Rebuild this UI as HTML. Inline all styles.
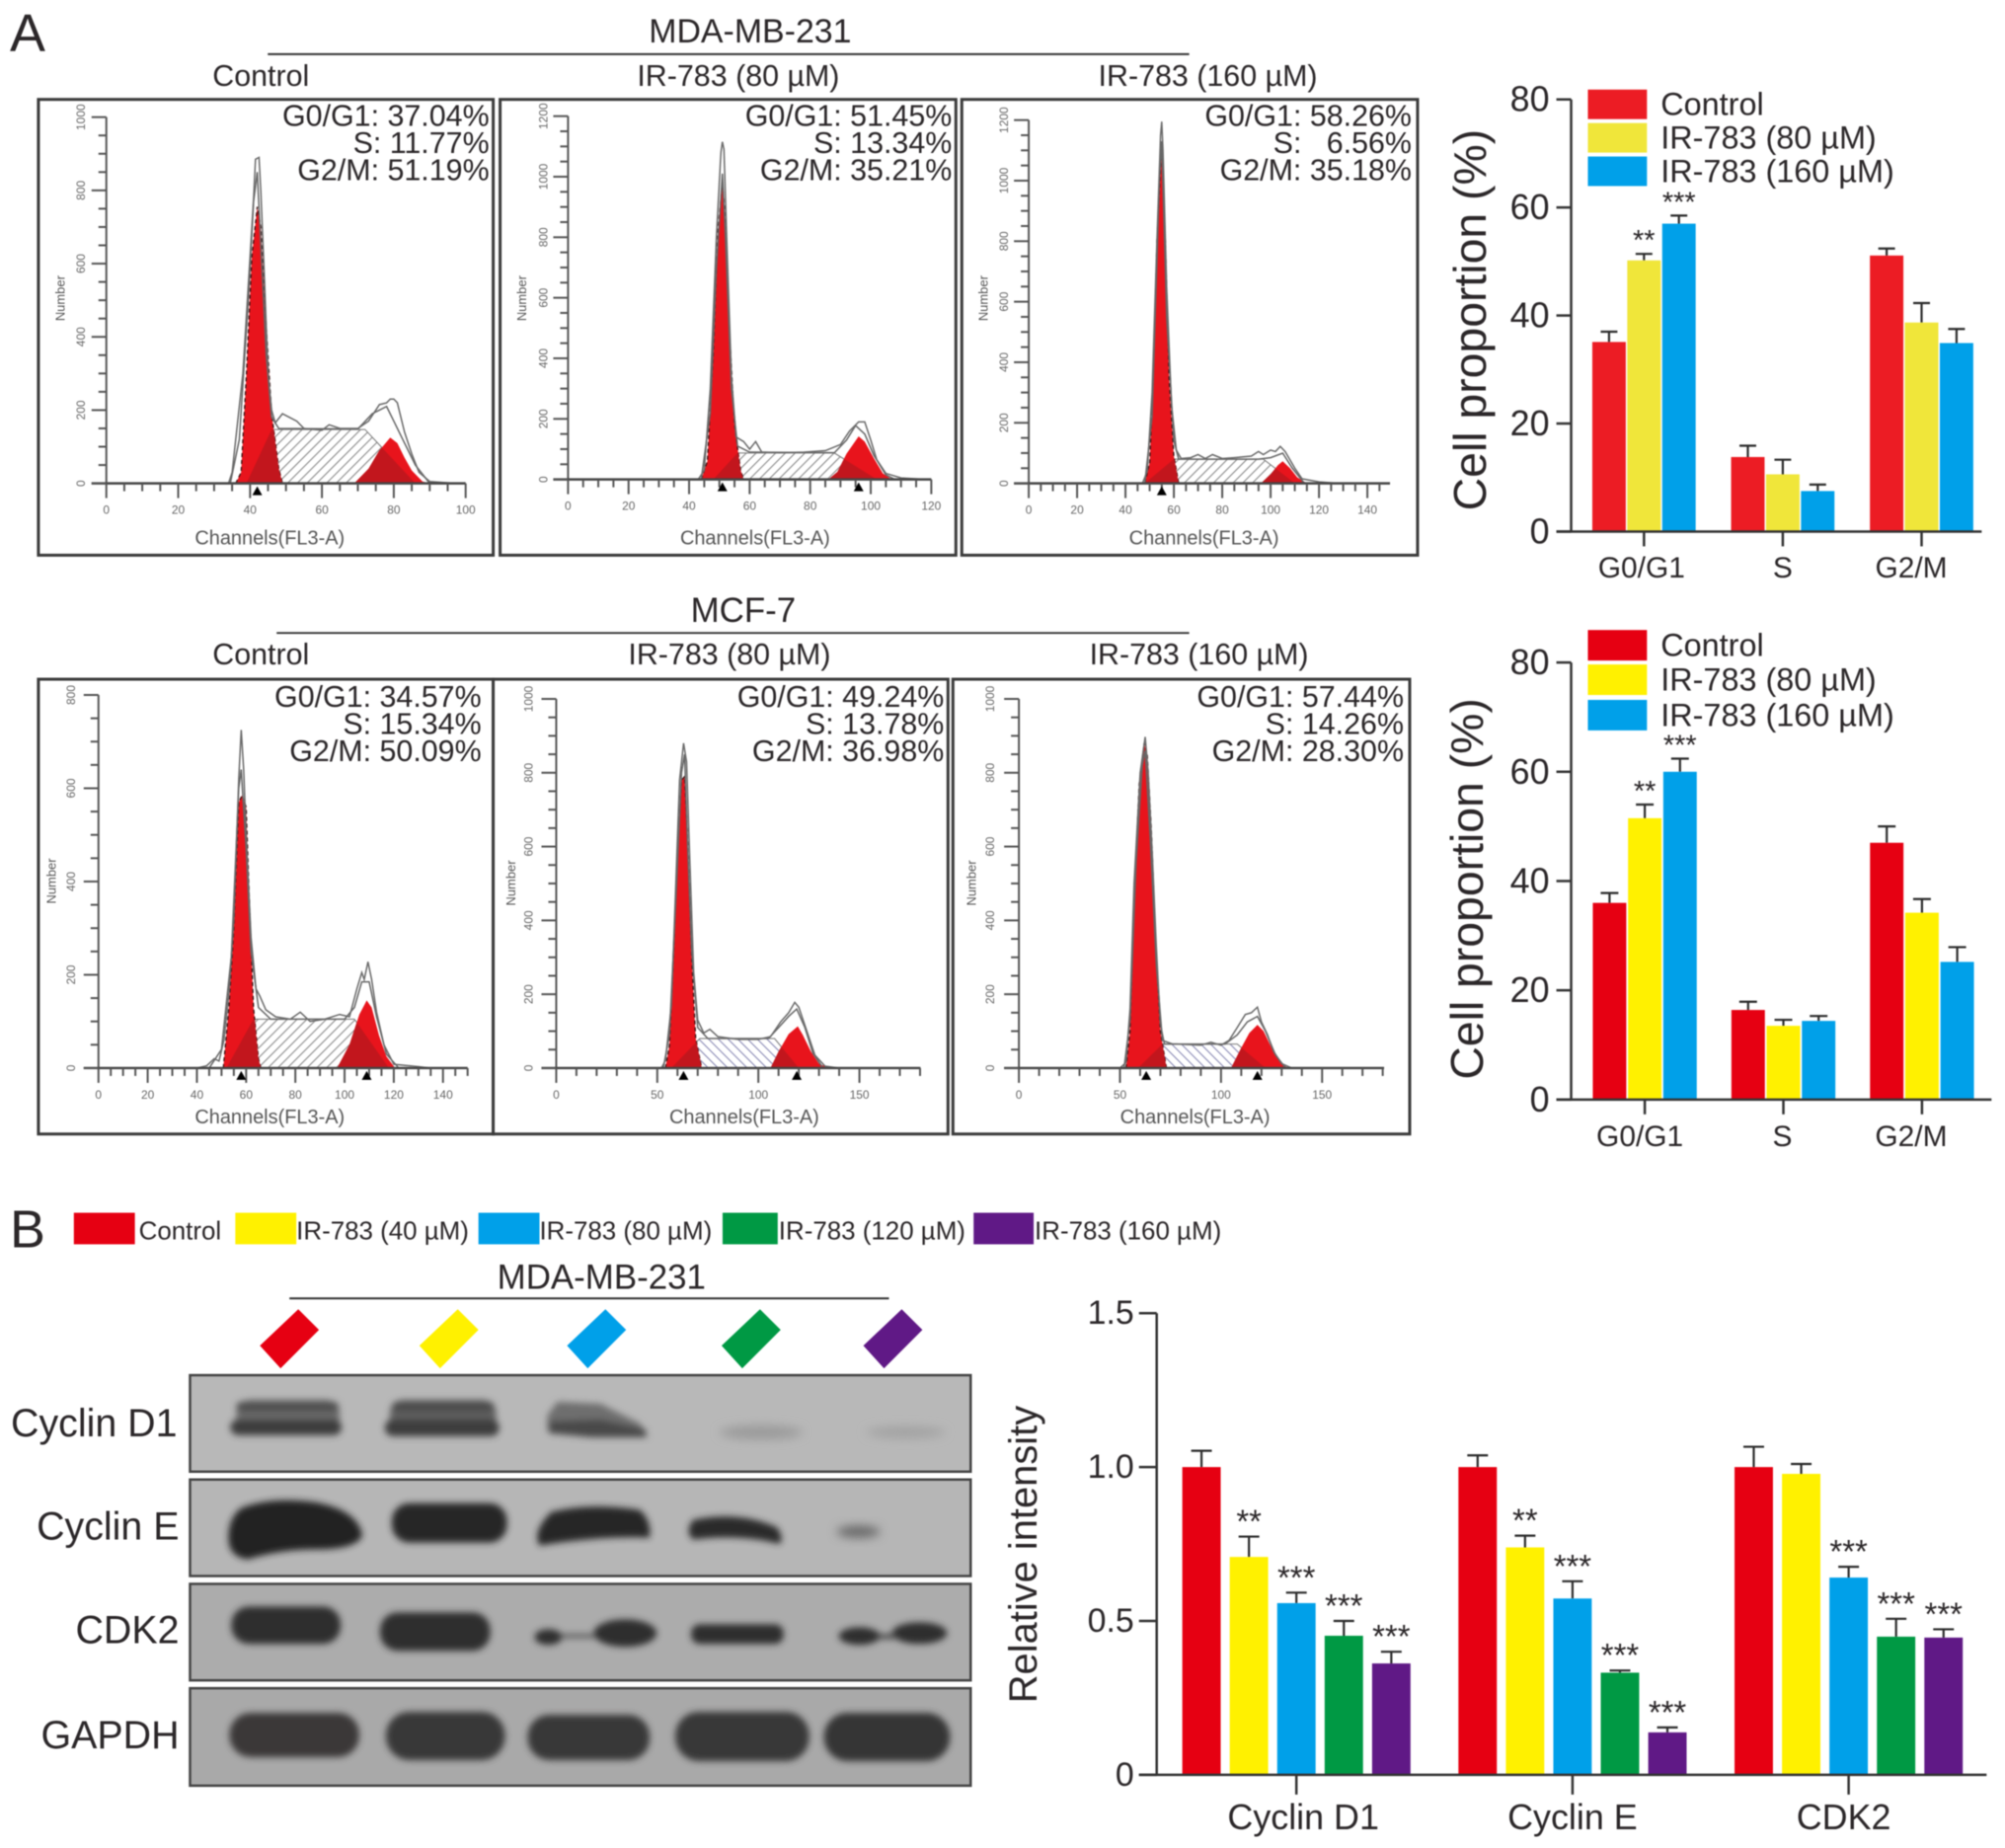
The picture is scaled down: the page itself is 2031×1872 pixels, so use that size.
<!DOCTYPE html>
<html lang="en"><head><meta charset="utf-8"><title>IR-783 cell cycle figure</title>
<style>
html,body{margin:0;padding:0;background:#fff}
svg{display:block;font-family:"Liberation Sans",sans-serif;filter:blur(.45px)}
text{fill:#2b2729}
</style></head>
<body>
<svg id="figure" xmlns="http://www.w3.org/2000/svg" width="2031" height="1872" viewBox="0 0 2036.7 1877.3">
<defs>
<pattern id="hatchGray" width="7" height="7" patternUnits="userSpaceOnUse" patternTransform="rotate(45)"><rect width="7" height="7" fill="#fff"/><line x1="0" y1="0" x2="0" y2="7" stroke="#8a8a8a" stroke-width="2.2"/></pattern>
<pattern id="hatchBlue" width="7" height="7" patternUnits="userSpaceOnUse" patternTransform="rotate(-45)"><rect width="7" height="7" fill="#fff"/><line x1="0" y1="0" x2="0" y2="7" stroke="#8b8bb5" stroke-width="2.2"/></pattern>
<filter id="bandBlur" x="-20%" y="-40%" width="140%" height="180%"><feGaussianBlur stdDeviation="3.4"/></filter>
<filter id="faintBlur" x="-30%" y="-80%" width="160%" height="260%"><feGaussianBlur stdDeviation="5"/></filter>
</defs>
<rect width="2037" height="1878" fill="#fff"/>

<text x="10" y="52" font-size="54">A</text>
<text x="762" y="43" font-size="34" text-anchor="middle">MDA-MB-231</text>
<line x1="272" y1="55" x2="1208" y2="55" stroke="#333" stroke-width="2"/>
<text x="265" y="87" font-size="30.5" text-anchor="middle">Control</text>
<text x="750" y="87" font-size="30.5" text-anchor="middle">IR-783 (80 µM)</text>
<text x="1227" y="87" font-size="30.5" text-anchor="middle">IR-783 (160 µM)</text>

<text x="755" y="632" font-size="35" text-anchor="middle">MCF-7</text>
<line x1="281" y1="643" x2="1208" y2="643" stroke="#333" stroke-width="2"/>
<text x="265" y="675" font-size="30.5" text-anchor="middle">Control</text>
<text x="741" y="675" font-size="30.5" text-anchor="middle">IR-783 (80 µM)</text>
<text x="1218" y="675" font-size="30.5" text-anchor="middle">IR-783 (160 µM)</text>

<g id="histograms"></g>
<g id="barCharts"></g>

<text x="10" y="1267" font-size="54">B</text>
<g font-size="26">
<rect x="75" y="1232" width="62" height="32" fill="#e60012"/>
<text x="141" y="1259">Control</text>
<rect x="239" y="1232" width="62" height="32" fill="#fff100"/>
<text x="301" y="1259">IR-783 (40 µM)</text>
<rect x="486" y="1232" width="62" height="32" fill="#00a0e9"/>
<text x="548" y="1259">IR-783 (80 µM)</text>
<rect x="734" y="1232" width="56" height="32" fill="#009944"/>
<text x="791" y="1259">IR-783 (120 µM)</text>
<rect x="989" y="1232" width="61" height="32" fill="#601986"/>
<text x="1051" y="1259">IR-783 (160 µM)</text>
</g>
<text x="611" y="1309" font-size="35" text-anchor="middle">MDA-MB-231</text>
<line x1="294" y1="1319" x2="903" y2="1319" stroke="#333" stroke-width="2"/>
<g>
<polygon points="303,1330 324,1351 285,1390 264,1367" fill="#e60012"/>
<polygon points="465,1330 486,1351 447,1390 426,1367" fill="#fff100"/>
<polygon points="615,1330 636,1351 597,1390 576,1367" fill="#00a0e9"/>
<polygon points="772,1330 793,1351 754,1390 733,1367" fill="#009944"/>
<polygon points="916,1330 937,1351 898,1390 877,1367" fill="#601986"/>
</g>

<g font-size="39.5" text-anchor="end" style="fill:#3a2c2c">
<text x="180" y="1459">Cyclin D1</text>
<text x="182" y="1564">Cyclin E</text>
<text x="182" y="1669">CDK2</text>
<text x="182" y="1776">GAPDH</text>
</g>

<g>
<rect x="193" y="1397" width="793" height="98" fill="#b8b8b8" stroke="#444" stroke-width="2.5"/>
<g filter="url(#bandBlur)">
<rect x="240" y="1422" width="105" height="34" rx="14" fill="#6a6a6a"/>
<rect x="240" y="1424" width="104" height="10" rx="5" fill="#505050"/>
<rect x="234" y="1442" width="113" height="16" rx="8" fill="#3e3e3e"/>
<rect x="396" y="1422" width="108" height="34" rx="14" fill="#606060"/>
<rect x="398" y="1424" width="104" height="10" rx="5" fill="#4c4c4c"/>
<rect x="391" y="1442" width="116" height="17" rx="8" fill="#3e3e3e"/>
<path d="M566 1424 L610 1426 L650 1446 L658 1460 L600 1460 L556 1454 L556 1438 Z" fill="#6e6e6e"/>
<path d="M558 1444 L610 1442 L656 1452 L656 1460 L600 1460 L558 1456 Z" fill="#484848"/>
</g>
<g filter="url(#faintBlur)">
<ellipse cx="773" cy="1455" rx="42" ry="7" fill="#9a9a9a"/>
<ellipse cx="920" cy="1455" rx="40" ry="6" fill="#a2a2a2"/>
</g>
</g>

<g>
<rect x="193" y="1503" width="793" height="98" fill="#b6b6b6" stroke="#444" stroke-width="2.5"/>
<g filter="url(#bandBlur)">
<path d="M245 1532 Q275 1520 320 1526 Q364 1534 368 1560 Q362 1574 320 1574 Q285 1574 252 1584 Q232 1582 232 1562 Q232 1542 245 1532Z" fill="#222"/>
<rect x="398" y="1527" width="117" height="40" rx="18" fill="#252525"/>
<path d="M560 1536 Q600 1526 650 1534 Q662 1545 660 1562 Q610 1560 548 1570 Q540 1556 560 1536Z" fill="#252525"/>
<path d="M704 1544 Q750 1534 790 1552 Q798 1568 790 1568 Q750 1558 704 1564 Q695 1556 704 1544Z" fill="#2a2a2a"/>
</g>
<g filter="url(#faintBlur)"><ellipse cx="872" cy="1556" rx="22" ry="6" fill="#666"/></g>
</g>

<g>
<rect x="193" y="1609" width="793" height="98" fill="#acacac" stroke="#444" stroke-width="2.5"/>
<g filter="url(#bandBlur)">
<rect x="235" y="1632" width="111" height="38" rx="18" fill="#2d2d2d"/>
<rect x="386" y="1638" width="112" height="39" rx="18" fill="#2d2d2d"/>
<ellipse cx="557" cy="1663" rx="14" ry="8" fill="#2d2d2d"/>
<ellipse cx="635" cy="1659" rx="32" ry="14" fill="#2d2d2d"/>
<rect x="702" y="1650" width="94" height="20" rx="9" fill="#2d2d2d"/>
<ellipse cx="873" cy="1662" rx="21" ry="9" fill="#2d2d2d"/>
<ellipse cx="934" cy="1659" rx="28" ry="11" fill="#2d2d2d"/>
<rect x="570" y="1660" width="35" height="4" fill="#555"/>
<rect x="892" y="1660" width="20" height="5" fill="#444"/>
</g>
</g>

<g>
<rect x="193" y="1715" width="793" height="99" fill="#a9a9a9" stroke="#444" stroke-width="2.5"/>
<g filter="url(#bandBlur)">
<rect x="233" y="1740" width="132" height="45" rx="22" fill="#3b3838"/>
<rect x="392" y="1739" width="121" height="49" rx="24" fill="#393737"/>
<rect x="536" y="1742" width="124" height="46" rx="22" fill="#393737"/>
<rect x="686" y="1739" width="136" height="50" rx="24" fill="#393737"/>
<rect x="837" y="1740" width="128" height="49" rx="24" fill="#343434"/>
</g>
</g>

<script>
/* ---------- Flow-cytometry histogram values (channel, count) ---------- */
const p1Stats = ['G0/G1: 37.04%', 'S: 11.77%', 'G2/M: 51.19%'];
const p1G1Peak = [[36,0],[37.5,30],[39,300],[40.5,620],[42,755],[43,700],[44.5,430],[46,190],[48,40],[49,0]];
const p1G2Peak = [[69,0],[73,40],[76,90],[79,125],[81,110],[83,70],[85,35],[88,5],[90,0]];
const p1SBand = [[39,0],[46,147],[72,147],[86,0]];
const p1Trace = [[34,0],[35,30],[38,300],[40,620],[41,780],[41.5,885],[42.5,890],[43,800],[44,560],[45,300],[46,200],[47,165],[49,190],[51,180],[53,170],[55,150],[60,145],[62,160],[65,150],[70,150],[73,170],[76,215],[78,220],[79,230],[80,230],[81,220],[83,140],[85,80],[87,30],[90,5],[97,0]];
const p1Fit = [[34.5,0],[37,120],[39.5,500],[41,770],[42,850],[43,650],[44.5,350],[46,180],[48,150],[70,148],[74,190],[78,210],[80,170],[83,110],[86,50],[90,0]];
const p1Markers = [42];

const p2Stats = ['G0/G1: 51.45%', 'S: 13.34%', 'G2/M: 35.21%'];
const p2G1Peak = [[44,0],[46,60],[48,420],[49.5,820],[51,985],[52,860],[53.5,460],[55,180],[57,30],[58,0]];
const p2G2Peak = [[86,0],[89,25],[92,85],[96,142],[98,125],[101,70],[104,20],[107,0]];
const p2SBand = [[48,0],[56,87],[88,87],[102,0]];
const p2Trace = [[43,0],[45,30],[47,300],[49,800],[50.5,1080],[51,1115],[51.5,1090],[52.5,780],[54,340],[55.5,140],[58,125],[60,100],[62,125],[64,90],[70,88],[78,90],[85,95],[90,115],[93,160],[96,190],[98,190],[100,130],[102,65],[105,20],[110,5],[118,0]];
const p2Fit = [[44,0],[47,220],[49,700],[51,1010],[52,800],[54,300],[56,110],[60,90],[88,88],[92,130],[95,178],[98,150],[101,80],[105,15],[108,0]];
const p2Markers = [51, 96];

const p3Stats = ['G0/G1: 58.26%', 'S:\u00A0\u00A0\u00A06.56%', 'G2/M: 35.18%'];
const p3G1Peak = [[48,0],[50,70],[51.5,350],[53,800],[55,1120],[56.5,800],[58,350],[60,90],[62,0]];
const p3G2Peak = [[96,0],[100,30],[103,60],[105,73],[108,50],[111,20],[115,0]];
const p3SBand = [[48,0],[60,80],[97,80],[110,0]];
const p3Trace = [[47,0],[49,40],[51,300],[53,800],[54.5,1150],[55,1195],[55.5,1100],[57,650],[59,260],[61,110],[63,82],[67,85],[70,95],[73,82],[76,95],[80,82],[85,85],[92,90],[95,105],[97,95],[100,110],[102,105],[104,122],[106,105],[110,50],[113,15],[120,5],[128,0]];
const p3Fit = [[48,0],[51,220],[54,1000],[55,1130],[57,550],[60,140],[62,80],[95,80],[100,85],[105,100],[109,50],[114,0]];
const p3Markers = [55];

const p4Stats = ['G0/G1: 34.57%', 'S: 15.34%', 'G2/M: 50.09%'];
const p4G1Peak = [[50.7,0],[53,130],[55,300],[57,570],[58.3,585],[60,560],[61.5,330],[63,130],[65,20],[66,0]];
const p4G2Peak = [[97,0],[102,50],[106,115],[109,145],[111,130],[114,70],[117,25],[120.5,0]];
const p4SBand = [[52,0],[63,105],[104,105],[118,0]];
const p4Trace = [[40,0],[44,5],[47,20],[49,15],[51,60],[53,160],[55,320],[57,620],[58,725],[59,640],[60,500],[62,280],[64,170],[65.5,155],[68,125],[72,110],[78,105],[82,120],[86,100],[92,105],[98,115],[102,110],[105,170],[107,205],[108,190],[109.5,228],[111,190],[113,120],[116,50],[120,8],[130,3],[135,0]];
const p4Fit = [[45,0],[50,40],[54,240],[57,600],[58,640],[60,470],[62,250],[65,130],[70,105],[90,105],[100,105],[104,130],[107,185],[110,185],[113,110],[117,30],[122,0]];
const p4Markers = [58, 109];

const p5Stats = ['G0/G1: 49.24%', 'S: 13.78%', 'G2/M: 36.98%'];
const p5G1Peak = [[54,0],[56,60],[58,300],[60,580],[62,780],[63.5,790],[65,620],[67,300],[69,80],[72,0]];
const p5G2Peak = [[106,0],[110,45],[115,92],[119.5,113],[122,90],[126,45],[130,12],[135,0]];
const p5SBand = [[57,0],[71,80],[108,80],[120,0]];
const p5Trace = [[52,0],[54,20],[57,170],[59,470],[61,780],[63,880],[64.5,830],[66,580],[68,260],[70,130],[73,95],[76,105],[80,85],[90,78],[100,78],[106,85],[111,125],[115,150],[118,178],[120,165],[124,100],[128,35],[133,5],[140,0]];
const p5Fit = [[53,0],[56,90],[59,430],[62,800],[63.5,850],[65,600],[67,320],[70,110],[75,80],[105,80],[110,110],[115,140],[119,160],[123,110],[127,40],[132,0]];
const p5Markers = [63, 119];

const p6Stats = ['G0/G1: 57.44%', 'S: 14.26%', 'G2/M: 28.30%'];
const p6G1Peak = [[53,0],[55,100],[57,450],[59.5,770],[62,880],[63.5,850],[65.5,650],[68,300],[70,100],[73,0]];
const p6G2Peak = [[105,0],[110,55],[114,95],[118,117],[121,100],[125,55],[129,18],[133,0]];
const p6SBand = [[59,0],[71,65],[108,65],[122,0]];
const p6Trace = [[50,0],[53,15],[55,160],[57,500],[60,800],[62.5,897],[64,800],[66,580],[68,330],[70,120],[72,65],[78,65],[90,62],[95,70],[100,62],[104,75],[108,110],[112,145],[115,150],[118,165],[120,125],[123,90],[126,45],[130,12],[135,0]];
const p6Fit = [[52,0],[55,130],[58,560],[61,820],[62.5,860],[65,620],[68,280],[71,75],[76,65],[102,65],[108,90],[113,125],[118,140],[122,100],[127,35],[132,0]];
const p6Markers = [63, 118];

/* ---------- Bar chart values ---------- */
const cycleCategories = ['G0/G1', 'S', 'G2/M'];
const cycleSeries = ['Control', 'IR-783 (80 µM)', 'IR-783 (160 µM)'];
const cycleTicks = [0, 20, 40, 60, 80];

const mdaControl = [35.1, 13.8, 51.1];
const mdaIr80 = [50.2, 10.6, 38.7];
const mdaIr160 = [57, 7.5, 34.9];
const mdaControlErr = [1.9, 2.1, 1.3];
const mdaIr80Err = [1.2, 2.7, 3.6];
const mdaIr160Err = [1.5, 1.2, 2.6];
const mdaIr80Stars = ['**', '', ''];
const mdaIr160Stars = ['***', '', ''];

const mcfControl = [36, 16.4, 47];
const mcfIr80 = [51.5, 13.5, 34.2];
const mcfIr160 = [60, 14.4, 25.2];
const mcfControlErr = [1.8, 1.5, 3];
const mcfIr80Err = [2.5, 1.1, 2.5];
const mcfIr160Err = [2.4, 0.9, 2.7];
const mcfIr80Stars = ['**', '', ''];
const mcfIr160Stars = ['***', '', ''];

const blotCategories = ['Cyclin D1', 'Cyclin E', 'CDK2'];
const blotSeries = ['Control', 'IR-783 (40 µM)', 'IR-783 (80 µM)', 'IR-783 (120 µM)', 'IR-783 (160 µM)'];
const blotTicks = ['0', '0.5', '1.0', '1.5'];
const blotControl = [1, 1, 1];
const blotIr40 = [0.708, 0.739, 0.978];
const blotIr80 = [0.558, 0.573, 0.641];
const blotIr120 = [0.452, 0.332, 0.449];
const blotIr160 = [0.362, 0.138, 0.446];
const blotControlErr = [0.053, 0.038, 0.066];
const blotIr40Err = [0.066, 0.038, 0.032];
const blotIr80Err = [0.034, 0.056, 0.035];
const blotIr120Err = [0.048, 0.007, 0.058];
const blotIr160Err = [0.038, 0.016, 0.027];
const blotIr40Stars = ['**', '**', ''];
const blotIr80Stars = ['***', '***', '***'];
const blotIr120Stars = ['***', '***', '***'];
const blotIr160Stars = ['***', '***', '***'];

const SVG_NS = 'http://www.w3.org/2000/svg';
function make(tag, attrs, parent, txt) {
  const n = document.createElementNS(SVG_NS, tag);
  for (const k in attrs) n.setAttribute(k, attrs[k]);
  if (txt !== undefined) n.textContent = txt;
  parent.appendChild(n);
  return n;
}

const histRoot = document.getElementById('histograms');
let clipCounter = 0;

function drawHistogram(p) {
  const g = make('g', {}, histRoot);
  
  
  const sx = c => p.x0 + c * (p.xRef - p.x0) / p.xRefVal;
  const sy = v => p.y0 - v * (p.y0 - p.yTop) / p.yMax;
  const pts = arr => arr.map(d => sx(d[0]).toFixed(1) + ',' + sy(d[1]).toFixed(1)).join(' ');

  const frame = make('rect', {x: p.bx, y: p.by, width: p.bw, height: p.bh, fill: '#fff', stroke: '#3a3a3a', 'stroke-width': 3}, g);
  
  

  const band = make('polygon', {points: pts(p.s), fill: 'url(#' + p.hatch + ')', stroke: '#777', 'stroke-width': 1}, g);
  
  

  const g1 = make('polygon', {points: pts(p.g1), fill: '#e8141c', stroke: '#3a1010', 'stroke-width': 1.3, 'stroke-dasharray': '4 3'}, g);
  
  
  const g2 = make('polygon', {points: pts(p.g2), fill: '#e8141c'}, g);
  
  

  const clipId = 'peakClip' + (clipCounter++);
  const clip = make('clipPath', {id: clipId}, g);
  make('polygon', {points: pts(p.g1)}, clip);
  make('polygon', {points: pts(p.g2)}, clip);
  const overlap = make('polygon', {points: pts(p.s), fill: '#c2161d', 'clip-path': 'url(#' + clipId + ')'}, g);
  
  

  const fit = make('polyline', {points: pts(p.fit), fill: 'none', stroke: '#666', 'stroke-width': 1.5}, g);
  
  
  const trace = make('polyline', {points: pts(p.trace), fill: 'none', stroke: '#6a6a6a', 'stroke-width': 1.5}, g);
  
  

  const axis = make('g', {stroke: '#555', 'stroke-width': 2}, g);
  
  
  make('line', {x1: p.x0, y1: p.yTop, x2: p.x0, y2: p.y0}, axis);
  make('line', {x1: p.x0 - 15, y1: p.y0, x2: p.xEnd, y2: p.y0, stroke: '#444', 'stroke-width': 2.5}, axis);

  for (let v = 0; v <= p.yMax + 0.01; v += p.yMinor) {
    const major = Math.round(v / p.yMinor) % Math.round(p.yMajor / p.yMinor) === 0;
    make('line', {x1: p.x0 - (major ? 15 : 8), y1: sy(v), x2: p.x0, y2: sy(v)}, axis);
    if (major) {
      const t = make('text', {transform: 'translate(' + p.tickX + ',' + sy(v) + ') rotate(-90)', 'text-anchor': 'middle', 'dominant-baseline': 'central', 'font-size': 12, style: 'fill:#666'}, g, String(v));
      
      
    }
  }
  const xLimit = (p.xEnd - p.x0) / ((p.xRef - p.x0) / p.xRefVal);
  for (let c = 0; c <= xLimit + 0.5; c += p.xMinor) {
    const major = Math.round(c / p.xMinor) % Math.round(p.xMajor / p.xMinor) === 0;
    make('line', {x1: sx(c), y1: p.y0, x2: sx(c), y2: p.y0 + (major ? 15 : 8)}, axis);
    if (major && sx(c) < p.xEnd + 2) {
      const t = make('text', {x: sx(c), y: p.y0 + 31, 'text-anchor': 'middle', 'font-size': 12, style: 'fill:#666'}, g, String(c));
      
      
    }
  }
  p.markers.forEach(m => {
    const tri = make('polygon', {points: [sx(m) + ',' + (p.y0 + 3), (sx(m) - 5) + ',' + (p.y0 + 12), (sx(m) + 5) + ',' + (p.y0 + 12)].join(' '), fill: '#000'}, g);
    
    
  });

  const yTitle = make('text', {transform: 'translate(' + p.numX + ',' + p.numY + ') rotate(-90)', 'text-anchor': 'middle', 'dominant-baseline': 'central', 'font-size': 13, style: 'fill:#555'}, g, 'Number');
  
  
  const xTitle = make('text', {x: p.chX, y: p.chY, 'text-anchor': 'middle', 'font-size': 20, style: 'fill:#555'}, g, 'Channels(FL3-A)');
  
  

  p.stats.forEach((line, i) => {
    const t = make('text', {x: p.statX, y: p.statY + i * 27.5, 'text-anchor': 'end', 'font-size': 30.5}, g, line);
    
    
  });
}

const hatchG = 'hatchGray', hatchB = 'hatchBlue';
drawHistogram({id:'mda-control',bx:39,by:101,bw:462,bh:463,x0:108,xRef:473,xRefVal:100,xEnd:473,y0:491,yTop:119,yMax:1000,xMajor:20,xMinor:5,yMajor:200,yMinor:50,tickX:82,numX:61,numY:303,chX:274,chY:553,statX:497,statY:128,stats:p1Stats,g1:p1G1Peak,g2:p1G2Peak,s:p1SBand,trace:p1Trace,fit:p1Fit,markers:p1Markers,hatch:hatchG});
drawHistogram({id:'mda-ir80',bx:508,by:101,bw:463,bh:463,x0:577,xRef:946,xRefVal:120,xEnd:946,y0:487,yTop:118,yMax:1200,xMajor:20,xMinor:5,yMajor:200,yMinor:50,tickX:552,numX:530,numY:303,chX:767,chY:553,statX:967,statY:128,stats:p2Stats,g1:p2G1Peak,g2:p2G2Peak,s:p2SBand,trace:p2Trace,fit:p2Fit,markers:p2Markers,hatch:hatchG});
drawHistogram({id:'mda-ir160',bx:977,by:101,bw:463,bh:463,x0:1045,xRef:1389,xRefVal:140,xEnd:1412,y0:491,yTop:122,yMax:1200,xMajor:20,xMinor:5,yMajor:200,yMinor:50,tickX:1020,numX:999,numY:303,chX:1223,chY:553,statX:1434,statY:128,stats:p3Stats,g1:p3G1Peak,g2:p3G2Peak,s:p3SBand,trace:p3Trace,fit:p3Fit,markers:p3Markers,hatch:hatchG});
drawHistogram({id:'mcf-control',bx:39,by:690,bw:462,bh:462,x0:100,xRef:450,xRefVal:140,xEnd:475,y0:1085,yTop:706,yMax:800,xMajor:20,xMinor:5,yMajor:200,yMinor:50,tickX:72,numX:52,numY:895,chX:274,chY:1141,statX:489,statY:718,stats:p4Stats,g1:p4G1Peak,g2:p4G2Peak,s:p4SBand,trace:p4Trace,fit:p4Fit,markers:p4Markers,hatch:hatchG});
drawHistogram({id:'mcf-ir80',bx:501,by:690,bw:462,bh:462,x0:565,xRef:873,xRefVal:150,xEnd:935,y0:1085,yTop:710,yMax:1000,xMajor:50,xMinor:10,yMajor:200,yMinor:50,tickX:537,numX:519,numY:897,chX:756,chY:1141,statX:959,statY:718,stats:p5Stats,g1:p5G1Peak,g2:p5G2Peak,s:p5SBand,trace:p5Trace,fit:p5Fit,markers:p5Markers,hatch:hatchB});
drawHistogram({id:'mcf-ir160',bx:968,by:690,bw:464,bh:462,x0:1035,xRef:1343,xRefVal:150,xEnd:1406,y0:1085,yTop:710,yMax:1000,xMajor:50,xMinor:10,yMajor:200,yMinor:50,tickX:1006,numX:987,numY:897,chX:1214,chY:1141,statX:1426,statY:718,stats:p6Stats,g1:p6G1Peak,g2:p6G2Peak,s:p6SBand,trace:p6Trace,fit:p6Fit,markers:p6Markers,hatch:hatchB});

const barRoot = document.getElementById('barCharts');

function drawBars(c) {
  const g = make('g', {}, barRoot);
  
  
  const sy = v => c.y0 - v * (c.y0 - c.yTop) / c.vMax;
  const barX = (i, s) => c.firstX + i * c.clusterStep + s * c.barStep;

  c.values.forEach((vals, s) => {
    vals.forEach((v, i) => {
      const x = barX(i, s);
      const top = sy(v);
      const errTop = sy(v + c.errors[s][i]);
      const cx = x + c.barW / 2;
      const err = make('path', {d: 'M' + cx + ' ' + top + 'V' + errTop + 'M' + (cx - c.capW / 2) + ' ' + errTop + 'H' + (cx + c.capW / 2), stroke: '#2b2b2b', 'stroke-width': 2.2, fill: 'none'}, g);
      
      
      const bar = make('rect', {x: x, y: top, width: c.barW, height: c.y0 - top, fill: c.colors[s]}, g);
      
      
      const star = c.stars[s] ? c.stars[s][i] : '';
      if (star) {
        const t = make('text', {x: cx, y: errTop + c.starDy, 'text-anchor': 'middle', 'font-size': c.starSize}, g, star);
        
        
      }
    });
  });

  const yAxis = make('line', {x1: c.axisX, y1: c.yTop, x2: c.axisX, y2: c.y0, stroke: '#333', 'stroke-width': 2.5}, g);
  
  
  const xAxis = make('line', {x1: c.axisX - c.tickLen, y1: c.y0, x2: c.axisEnd, y2: c.y0, stroke: '#333', 'stroke-width': 2.5}, g);
  
  

  c.ticks.forEach(tv => {
    const y = sy(parseFloat(tv));
    const tk = make('line', {x1: c.axisX - c.tickLen, y1: y, x2: c.axisX, y2: y, stroke: '#333', 'stroke-width': 2.5}, g);
    
    
    const t = make('text', {x: c.tickLabelX, y: y, 'text-anchor': 'end', 'dominant-baseline': 'central', 'font-size': c.tickSize}, g, String(tv));
    
    
  });

  c.categories.forEach((name, i) => {
    const cx = barX(i, (c.series.length - 1) / 2) + c.barW / 2;
    const tk = make('line', {x1: cx, y1: c.y0, x2: cx, y2: c.y0 + c.catTick, stroke: '#333', 'stroke-width': 2.5}, g);
    
    
    const t = make('text', {x: cx + c.catOffset[i], y: c.catY, 'text-anchor': 'middle', 'dominant-baseline': 'central', 'font-size': c.catSize}, g, name);
    
    
  });

  const title = make('text', {transform: 'translate(' + c.titleX + ',' + c.titleY + ') rotate(-90)', 'text-anchor': 'middle', 'dominant-baseline': 'central', 'font-size': c.titleSize}, g, c.title);
  
  

  if (c.legendY) {
    c.series.forEach((name, s) => {
      const sw = make('rect', {x: c.legendX, y: c.legendY[s], width: c.legendW, height: c.legendH, fill: c.colors[s]}, g);
      
      
      const t = make('text', {x: c.legendTextX, y: c.legendY[s] + c.legendH / 2, 'dominant-baseline': 'central', 'font-size': 32.5}, g, name);
      
      
    });
  }
}

drawBars({id:'mda-cycle',categories:cycleCategories,series:cycleSeries,ticks:cycleTicks,
  values:[mdaControl,mdaIr80,mdaIr160],errors:[mdaControlErr,mdaIr80Err,mdaIr160Err],stars:[null,mdaIr80Stars,mdaIr160Stars],
  colors:['#ec1c24','#f0e63a','#00a0e9'],y0:540,yTop:101,vMax:80,firstX:1617.5,clusterStep:141,barStep:35.5,barW:34,capW:17,
  axisX:1596,axisEnd:2013,tickLen:15,tickLabelX:1574,tickSize:36,catTick:15,catY:577,catSize:30,catOffset:[-2.5,0,-10.5],starDy:-4,starSize:29,
  title:'Cell proportion (%)',titleX:1493,titleY:325,titleSize:46.5,legendX:1613,legendW:60,legendH:30,legendY:[91,125,159],legendTextX:1687});

drawBars({id:'mcf-cycle',categories:cycleCategories,series:cycleSeries,ticks:cycleTicks,
  values:[mcfControl,mcfIr80,mcfIr160],errors:[mcfControlErr,mcfIr80Err,mcfIr160Err],stars:[null,mcfIr80Stars,mcfIr160Stars],
  colors:['#e60012','#fff100','#00a0e9'],y0:1117,yTop:673,vMax:80,firstX:1618,clusterStep:140.8,barStep:35.8,barW:34,capW:18,
  axisX:1596,axisEnd:2023,tickLen:15,tickLabelX:1574,tickSize:36,catTick:15,catY:1155,catSize:30,catOffset:[-5,-1,-11],starDy:-4,starSize:29,
  title:'Cell proportion (%)',titleX:1490,titleY:903,titleSize:46.5,legendX:1613,legendW:60,legendH:31,legendY:[640,675,711],legendTextX:1687});

drawBars({id:'blot-intensity',categories:blotCategories,series:blotSeries,ticks:blotTicks,
  values:[blotControl,blotIr40,blotIr80,blotIr120,blotIr160],errors:[blotControlErr,blotIr40Err,blotIr80Err,blotIr120Err,blotIr160Err],stars:[null,blotIr40Stars,blotIr80Stars,blotIr120Stars,blotIr160Stars],
  colors:['#e60012','#fff100','#00a0e9','#009944','#601986'],y0:1803,yTop:1334,vMax:1.5,firstX:1201,clusterStep:280.5,barStep:48.2,barW:39,capW:21,
  axisX:1175,axisEnd:2018,tickLen:18,tickLabelX:1152,tickSize:34,catTick:20,catY:1846,catSize:36,catOffset:[7,0,-5],starDy:-4,starSize:33,
  title:'Relative intensity',titleX:1040,titleY:1579,titleSize:40});
</script>
</svg>
</body></html>
